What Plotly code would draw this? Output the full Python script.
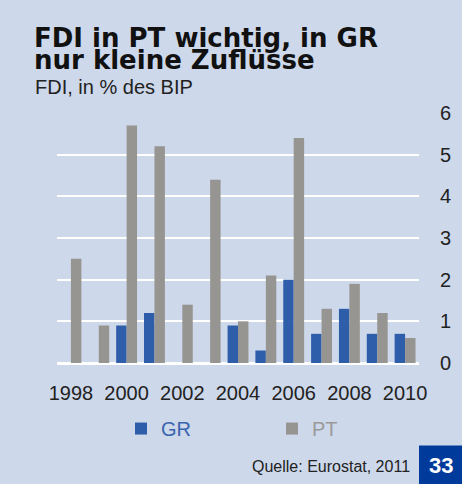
import plotly.graph_objects as go

years = [str(y) for y in range(1998, 2011)]
gr_values = [None, None, 0.9, 1.2, None, None, 0.9, 0.3, 2.0, 0.7, 1.3, 0.7, 0.7]
pt_values = [2.5, 0.9, 5.7, 5.2, 1.4, 4.4, 1.0, 2.1, 5.4, 1.3, 1.9, 1.2, 0.6]
x_ticks = ["1998", "2000", "2002", "2004", "2006", "2008", "2010"]
y_ticks = [0, 1, 2, 3, 4, 5, 6]

BG = "#CDD8EA"
BLUE = "#2E5EAA"
GREY = "#979592"

fig = go.Figure()
fig.add_trace(go.Bar(x=years, y=gr_values, name="<span style='color:#3A64AE'>GR</span>",
                     marker=dict(color=BLUE, line=dict(width=0))))
fig.add_trace(go.Bar(x=years, y=pt_values, name="<span style='color:#9A9A9A'>PT</span>",
                     marker=dict(color=GREY, line=dict(width=0))))

L, R, T, B = 57, 43, 112.7, 120.7
W, H = 462, 484
pw, ph = W - L - R, H - T - B

def px(x):
    return (x - L) / pw

def py(y):
    return (H - B - y) / ph

fig.update_layout(
    width=W, height=H,
    margin=dict(l=L, r=R, t=T, b=B, pad=0, autoexpand=False),
    paper_bgcolor=BG, plot_bgcolor=BG,
    barmode="group", bargap=0.25, bargroupgap=0,
    font=dict(family="Liberation Sans, Arial, sans-serif", size=20, color="#222222"),
    showlegend=True,
    legend=dict(orientation="h", x=px(121), xanchor="left", y=py(429), yanchor="middle",
                entrywidth=106, entrywidthmode="pixels", bgcolor="rgba(0,0,0,0)",
                font=dict(size=20), traceorder="normal", itemwidth=30),
    xaxis=dict(type="category", categoryorder="array", categoryarray=years,
               tickmode="array", tickvals=x_ticks, ticktext=x_ticks,
               showgrid=False, zeroline=False, showline=False,
               ticks="outside", ticklen=12, tickcolor="rgba(0,0,0,0)",
               tickfont=dict(size=20, color="#222222")),
    yaxis=dict(range=[0, 6], side="right", tickmode="array", tickvals=y_ticks,
               showgrid=True, gridcolor="white", gridwidth=2,
               zeroline=True, zerolinecolor="white", zerolinewidth=3,
               showline=False, ticks="outside", ticklen=16, tickcolor="rgba(0,0,0,0)",
               tickfont=dict(size=20, color="#222222")),
)

annos = [
    dict(text="<b>FDI in PT wichtig, in GR</b>", x=px(32), y=py(37.5),
         font=dict(family="DejaVu Sans", size=26, color="#111111")),
    dict(text="<b>nur kleine Zuflüsse</b>", x=px(32), y=py(60),
         font=dict(family="DejaVu Sans", size=26, color="#111111")),
    dict(text="FDI, in % des BIP", x=px(33), y=py(87),
         font=dict(family="Liberation Sans, Arial", size=20, color="#222222")),
]
for a in annos:
    fig.add_annotation(xref="paper", yref="paper", xanchor="left", yanchor="middle",
                       showarrow=False, **a)

fig.add_annotation(xref="paper", yref="paper", x=px(412), y=py(467), xanchor="right",
                   yanchor="middle", showarrow=False, text="Quelle: Eurostat, 2011",
                   font=dict(family="Liberation Sans, Arial", size=16, color="#222222"))

fig.add_shape(type="rect", xref="paper", yref="paper", x0=px(419), x1=px(463),
              y0=py(485), y1=py(446), fillcolor="#003A9B", line=dict(width=0), layer="above")
fig.add_annotation(xref="paper", yref="paper", x=px(440.5), y=py(466), xanchor="center",
                   yanchor="middle", showarrow=False, text="<b>33</b>",
                   font=dict(family="Liberation Sans, Arial", size=22, color="white"))

fig.write_html("out.html", config={"displayModeBar": False},
               post_script="document.body.style.margin='0';document.body.style.overflow='hidden';")
